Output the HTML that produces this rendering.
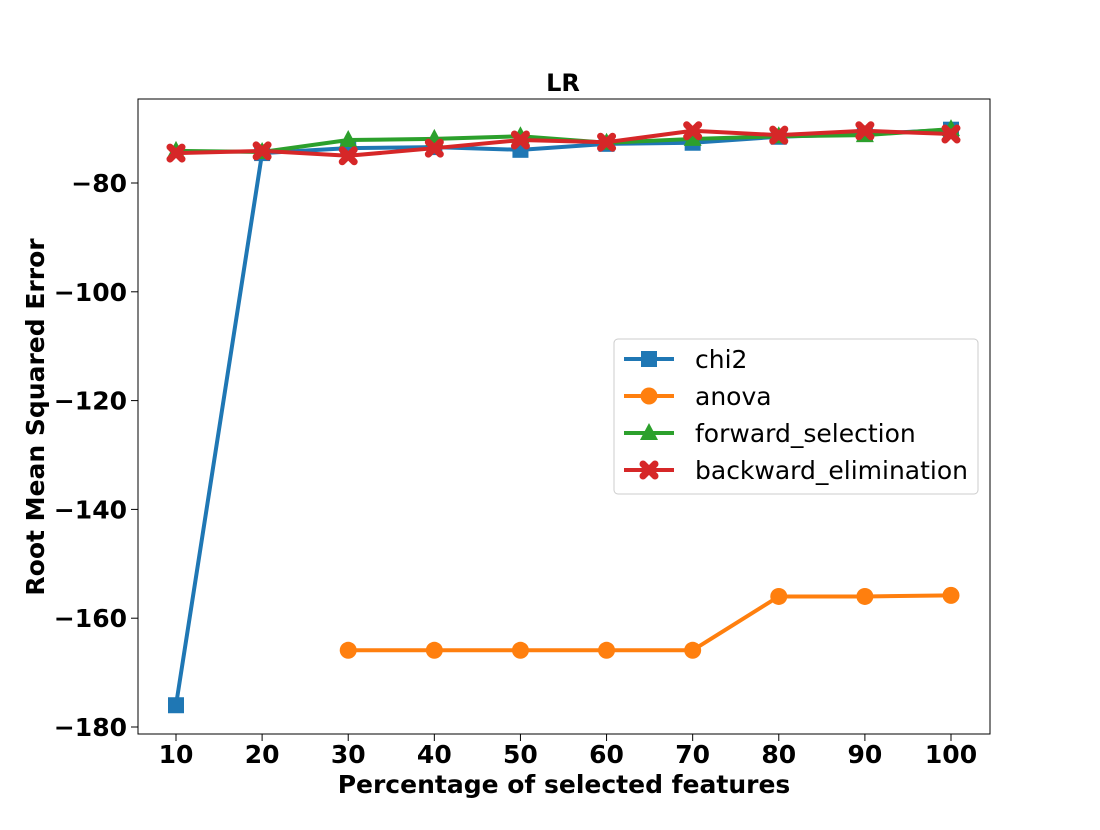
<!DOCTYPE html>
<html><head><meta charset="utf-8"><style>
body{margin:0;background:#fff;}
svg text{font-family:"DejaVu Sans","Liberation Sans",sans-serif;}
</style></head><body>
<svg id="chart" width="1100" height="825" xmlns="http://www.w3.org/2000/svg"></svg>
<script>
const categories=[10,20,30,40,50,60,70,80,90,100];
const chi2=[-176,-74.5,-73.6,-73.4,-73.9,-72.8,-72.6,-71.5,-71.0,-70.2];
const anova=[null,null,-165.9,-165.9,-165.9,-165.9,-165.9,-156.0,-156.0,-155.8];
const forwardSel=[-74.1,-74.3,-72.1,-71.9,-71.4,-72.6,-71.9,-71.4,-71.2,-70.1];
const backwardElim=[-74.5,-74.1,-75.0,-73.6,-72.1,-72.5,-70.4,-71.2,-70.4,-71.0];
const yTicks=[-80,-100,-120,-140,-160,-180];
const seriesNames=["chi2","anova","forward_selection","backward_elimination"];
const NS="http://www.w3.org/2000/svg";
const svg=document.getElementById('chart');
const X=v=>176+(v-10)*(951-176)/90;
const Y=v=>183+(-80-v)*(727-183)/100;
function mk(t,a,p){const e=document.createElementNS(NS,t);for(const k in a)e.setAttribute(k,a[k]);(p||svg).appendChild(e);return e;}
const title=mk('text',{x:563,y:91,'text-anchor':'middle','font-size':24,'font-weight':'bold'});title.textContent='LR';


const frame=mk('rect',{x:138,y:99,width:852,height:635,fill:'none',stroke:'#000','stroke-width':1});


categories.forEach(c=>{mk('line',{x1:X(c),x2:X(c),y1:734,y2:741,stroke:'#000'});
 const t=mk('text',{x:X(c),y:763,'text-anchor':'middle','font-size':25,'font-weight':'bold'});t.textContent=c;
 
 });
yTicks.forEach(v=>{mk('line',{x1:131,x2:138,y1:Y(v),y2:Y(v),stroke:'#000'});
 const t=mk('text',{x:127,y:Y(v)+9,'text-anchor':'end','font-size':25,'font-weight':'bold'});t.textContent='\u2212'+Math.abs(v);
 
 });
const xl=mk('text',{x:564,y:793,'text-anchor':'middle','font-size':25,'font-weight':'bold'});xl.textContent='Percentage of selected features';


const yl=mk('text',{x:0,y:0,'text-anchor':'middle','font-size':25,'font-weight':'bold',transform:'translate(44,417) rotate(-90)'});yl.textContent='Root Mean Squared Error';


const colors=['#1f77b4','#ff7f0e','#2ca02c','#d62728'];
const markers=['s','o','^','x'];
function marker(g,type,x,y,c){
 if(type==='s')mk('rect',{x:x-8,y:y-8,width:16,height:16,fill:c},g);
 else if(type==='o')mk('circle',{cx:x,cy:y,r:8.5,fill:c},g);
 else if(type==='^')mk('polygon',{points:`${x},${y-10} ${x+9},${y+7} ${x-9},${y+7}`,fill:c},g);
 else {mk('path',{d:`M${x-6},${y-6}L${x+6},${y+6}M${x+6},${y-6}L${x-6},${y+6}`,stroke:c,'stroke-width':7,'stroke-linecap':'round'},g);}
}
[chi2,anova,forwardSel,backwardElim].forEach((s,i)=>{
 const g=mk('g',{});
 
 
 const pts=[];s.forEach((v,j)=>{if(v!==null)pts.push([X(categories[j]),Y(v)]);});
 mk('polyline',{points:pts.map(p=>p.join(',')).join(' '),fill:'none',stroke:colors[i],'stroke-width':4},g);
 pts.forEach(p=>marker(g,markers[i],p[0],p[1],colors[i]));
});
const lg=mk('g',{});


mk('rect',{x:614,y:339,width:364,height:155,rx:4,fill:'#fff',stroke:'#ccc'},lg);
seriesNames.forEach((n,i)=>{const y=359+i*37;
 const e=mk('g',{},lg);
 
 
 mk('line',{x1:624,x2:674,y1:y,y2:y,stroke:colors[i],'stroke-width':4},e);
 marker(e,markers[i],649,y,colors[i]);
 const t=mk('text',{x:695,y:y+9,'font-size':25},e);t.textContent=n;});
</script>
</body></html>
